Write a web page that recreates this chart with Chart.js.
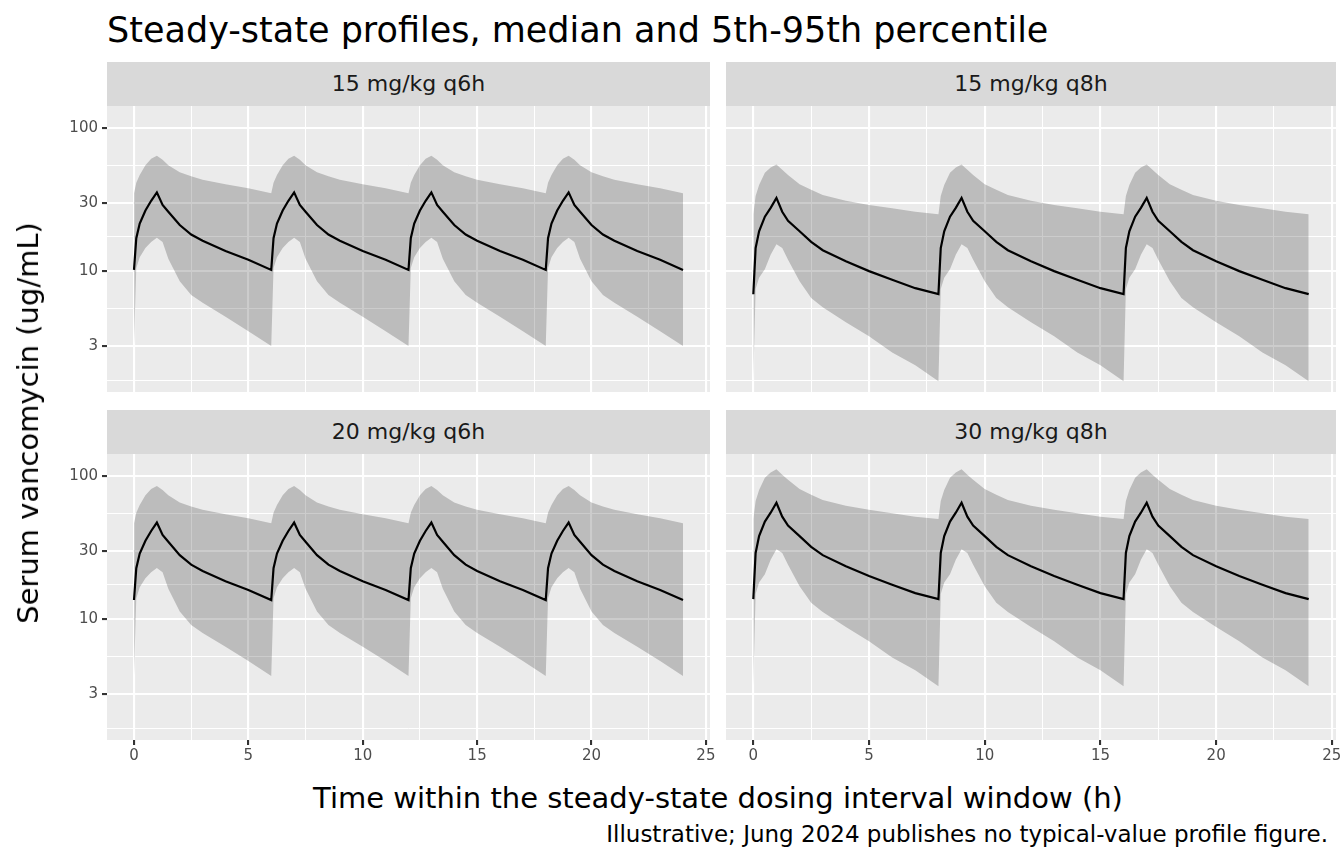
<!DOCTYPE html>
<html>
<head>
<meta charset="utf-8">
<script src="https://cdn.jsdelivr.net/npm/chart.js@4"></script>
<style>
  body { margin: 0; width: 1344px; height: 864px; background: #fff; font-family: "DejaVu Sans", sans-serif; position: relative; overflow: hidden; }
  .abs { position: absolute; white-space: nowrap; }
  .panel { position: absolute; background: #ebebeb; }
  .strip { position: absolute; background: #d9d9d9; color: #1a1a1a; font-size: 22px; text-align: center; line-height: 44px; }
  canvas { position: absolute; }
</style>
</head>
<body>
<div class="abs" style="left:107px;top:30px;transform:translateY(-50%);font-size:35px;color:#000;">Steady-state profiles, median and 5th-95th percentile</div>

<div class="strip" style="left:107px;top:62px;width:603px;height:44px;">15 mg/kg q6h</div>
<div class="strip" style="left:726px;top:62px;width:610px;height:44px;">15 mg/kg q8h</div>
<div class="strip" style="left:107px;top:410px;width:603px;height:44px;">20 mg/kg q6h</div>
<div class="strip" style="left:726px;top:410px;width:610px;height:44px;">30 mg/kg q8h</div>

<div class="panel" style="left:107px;top:106px;width:603px;height:286px;"></div>
<div class="panel" style="left:726px;top:106px;width:610px;height:286px;"></div>
<div class="panel" style="left:107px;top:454px;width:603px;height:286px;"></div>
<div class="panel" style="left:726px;top:454px;width:610px;height:286px;"></div>

<div style="position:absolute;left:0;top:0;width:1344px;height:864px;">
  <canvas id="c1"></canvas><canvas id="c2"></canvas><canvas id="c3"></canvas><canvas id="c4"></canvas>
</div>

<div class="abs" style="left:28px;top:423px;transform:translate(-50%,-50%) rotate(-90deg);font-size:29px;color:#000;">Serum vancomycin (ug/mL)</div>
<div class="abs" style="left:718px;top:798px;transform:translate(-50%,-50%);font-size:29px;color:#000;">Time within the steady-state dosing interval window (h)</div>
<div class="abs" style="right:16px;top:834px;transform:translateY(-50%);font-size:23px;color:#000;">Illustrative; Jung 2024 publishes no typical-value profile figure.</div>

<script>
// time grid within one dosing interval (h)
const t6 = [0, 0.1, 0.25, 0.5, 0.75, 1.0, 1.25, 1.5, 2, 2.5, 3, 4, 5, 6];
const t8 = [0, 0.1, 0.25, 0.5, 0.75, 1.0, 1.25, 1.5, 2, 2.5, 3, 4, 5, 6, 7, 8];

// 15 mg/kg q6h
const med15q6 = [10.2, 17, 21.5, 26.5, 31, 35.5, 29, 26, 21, 18, 16.3, 13.8, 12, 10.2];
const up15q6  = [35, 41.5, 47, 55, 61, 64, 60, 55, 49, 46, 43.5, 40.5, 38, 35];
const lo15q6  = [3.0, 10.5, 12.5, 14.5, 16, 17.1, 16, 12.2, 8.5, 6.8, 6.0, 4.8, 3.8, 3.0];
// 20 mg/kg q6h
const med20q6 = [13.6, 22.7, 28.7, 35.3, 41.3, 47.3, 38.7, 34.7, 28, 24, 21.7, 18.4, 16, 13.6];
const up20q6  = [46.7, 55.3, 62.7, 73.3, 81.3, 85.3, 80, 73.3, 65.3, 61.3, 58, 54, 50.7, 46.7];
const lo20q6  = [4, 14, 16.7, 19.3, 21.3, 22.8, 21.3, 16.3, 11.3, 9.1, 8, 6.4, 5.1, 4];
// 15 mg/kg q8h
const med15q8 = [6.9, 14.5, 19, 24, 27.7, 32.5, 26, 22.5, 19, 16, 14, 11.7, 10, 8.7, 7.6, 6.9];
const up15q8  = [25, 33.5, 40, 48.7, 53, 55.7, 51, 47, 40.5, 37, 34, 31, 29, 27.5, 26, 25];
const lo15q8  = [1.7, 7.5, 9, 10.3, 13, 15.4, 14.5, 12, 8.5, 6.5, 5.6, 4.4, 3.5, 2.7, 2.2, 1.7];
// 30 mg/kg q8h
const med30q8 = [13.8, 29, 38, 48, 55.4, 65, 52, 45, 38, 32, 28, 23.4, 20, 17.4, 15.2, 13.8];
const up30q8  = [50, 67, 80, 97.4, 106, 111.4, 102, 94, 81, 74, 68, 62, 58, 55, 52, 50];
const lo30q8  = [3.4, 15, 18, 20.6, 26, 30.8, 29, 24, 17, 13, 11.2, 8.8, 7, 5.4, 4.4, 3.4];

const yMajor = [3, 10, 30, 100];
const yMinor = [1.732, 5.477, 17.32, 54.77];
const xMajor = [0, 5, 10, 15, 20, 25];
const xMinor = [2.5, 7.5, 12.5, 17.5, 22.5];

const WINDOW = 24;
const PADR = 16;

// repeat the steady-state interval across the 24 h window
function tile(times, vals, tau) {
    const pts = [];
    for (let k = 0; k * tau < WINDOW; k++) {
        times.forEach((t, i) => pts.push({ x: k * tau + t, y: vals[i] }));
    }
    return pts;
}

function makePanel(id, box, times, tau, med, lo, up, showY, showX) {
    const cv = document.getElementById(id);
    const left = showY ? 0 : box.x;
    const w = box.x + box.w - left + PADR;
    const h = box.h + (showX ? 30 : 0);
    cv.style.left = left + 'px';
    cv.style.top = box.y + 'px';
    cv.width = w; cv.height = h;
    cv.style.width = w + 'px'; cv.style.height = h + 'px';

    new Chart(cv.getContext('2d'), {
        type: 'line',
        data: {
            datasets: [
                { data: tile(times, up, tau), borderWidth: 0, pointRadius: 0, fill: '+1', backgroundColor: 'rgba(0,0,0,0.2)', tension: 0 },
                { data: tile(times, lo, tau), borderWidth: 0, pointRadius: 0, fill: false, tension: 0 },
                { data: tile(times, med, tau), borderColor: '#000', borderWidth: 2.2, pointRadius: 0, fill: false, tension: 0 }
            ]
        },
        options: {
            responsive: false,
            animation: false,
            devicePixelRatio: 1,
            layout: { padding: { left: 0, top: 0, bottom: 0, right: PADR } },
            plugins: { legend: { display: false }, tooltip: { enabled: false } },
            scales: {
                x: {
                    type: 'linear', min: -1.18, max: 25.18,
                    afterBuildTicks: s => { s.ticks = xMajor.concat(xMinor).map(v => ({ value: v })); },
                    afterFit: s => { s.height = showX ? 30 : 0; s.paddingLeft = 0; s.paddingRight = 0; },
                    border: { display: false },
                    grid: {
                        color: '#fff',
                        lineWidth: c => xMajor.includes(c.tick.value) ? 2.1 : 1,
                        tickColor: c => (showX && xMajor.includes(c.tick.value)) ? '#333' : 'rgba(0,0,0,0)',
                        tickLength: 5,
                        drawTicks: showX
                    },
                    ticks: {
                        display: showX, color: '#4d4d4d', font: { family: 'DejaVu Sans', size: 15 }, padding: 2,
                        maxRotation: 0, autoSkip: false,
                        callback: v => xMajor.includes(v) ? String(v) : ''
                    }
                },
                y: {
                    type: 'logarithmic', min: 1.43, max: 142.5,
                    afterBuildTicks: s => { s.ticks = yMajor.concat(yMinor).map(v => ({ value: v })); },
                    afterFit: s => { s.width = showY ? box.x : 0; s.paddingTop = 0; s.paddingBottom = 0; },
                    border: { display: false },
                    grid: {
                        color: '#fff',
                        lineWidth: c => yMajor.includes(c.tick.value) ? 2.1 : 1,
                        tickColor: c => (showY && yMajor.includes(c.tick.value)) ? '#333' : 'rgba(0,0,0,0)',
                        tickLength: 5,
                        drawTicks: showY
                    },
                    ticks: {
                        display: showY, color: '#4d4d4d', font: { family: 'DejaVu Sans', size: 15 }, padding: 4,
                        autoSkip: false,
                        callback: v => yMajor.includes(v) ? String(v) : ''
                    }
                }
            }
        }
    });
}

makePanel('c1', { x: 107, y: 106, w: 603, h: 286 }, t6, 6, med15q6, lo15q6, up15q6, true, false);
makePanel('c2', { x: 726, y: 106, w: 610, h: 286 }, t8, 8, med15q8, lo15q8, up15q8, false, false);
makePanel('c3', { x: 107, y: 454, w: 603, h: 286 }, t6, 6, med20q6, lo20q6, up20q6, true, true);
makePanel('c4', { x: 726, y: 454, w: 610, h: 286 }, t8, 8, med30q8, lo30q8, up30q8, false, true);
</script>
</body>
</html>
